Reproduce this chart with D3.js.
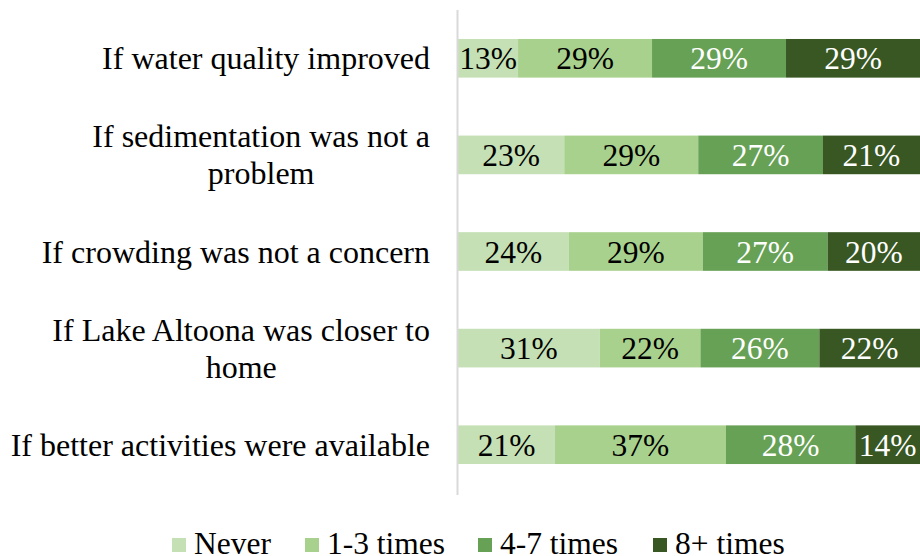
<!DOCTYPE html>
<html>
<head>
<meta charset="utf-8">
<script src="https://cdn.jsdelivr.net/npm/d3@7"></script>
<style>
  body { margin: 0; background: #fff; }
  text { font-family: "Liberation Serif", "Times New Roman", serif; }
</style>
</head>
<body>
<div id="chart"></div>
<script>
var categories = [
  "If water quality improved",
  "If sedimentation was not a\nproblem",
  "If crowding was not a concern",
  "If Lake Altoona was closer to\nhome",
  "If better activities were available"
];
var seriesNames = ["Never", "1-3 times", "4-7 times", "8+ times"];
var never = [13, 23, 24, 31, 21];
var oneToThree = [29, 29, 29, 22, 37];
var fourToSeven = [29, 27, 27, 26, 28];
var eightPlus = [29, 21, 20, 22, 14];

var colors = ["#c5e0b4", "#a9d18e", "#67a155", "#385723"];
var labelColors = ["#000", "#000", "#fff", "#fff"];

var width = 920, height = 556;

var svg = d3.select("#chart").append("svg")
            .attr("width", width)
            .attr("height", height);

var rows = categories.map(function(c, i) {
  return {cat: c, Never: never[i], "1-3 times": oneToThree[i], "4-7 times": fourToSeven[i], "8+ times": eightPlus[i]};
});

// normalise each row to 100
var stacked = d3.stack().keys(seriesNames)
                .offset(d3.stackOffsetExpand)(rows);

var y = d3.scaleBand()
          .domain(categories)
          .range([10, 493])
          .paddingInner(0.6)
          .paddingOuter(0.3);

var x = d3.scaleLinear()
          .domain([0, 1])
          .range([458, 920]);

var groups = svg.selectAll("g.series")
                .data(stacked)
                .enter()
                .append("g")
                .attr("class", "series")
                .attr("fill", function(d, i) { return colors[i]; });

groups.selectAll("rect")
      .data(function(d) { return d; })
      .enter()
      .append("rect")
      .attr("x", function(d) { return x(d[0]); })
      .attr("y", function(d) { return y(d.data.cat); })
      .attr("width", function(d) { return x(d[1]) - x(d[0]); })
      .attr("height", y.bandwidth());

groups.each(function(s, si) {
  d3.select(this).selectAll("text")
    .data(s)
    .enter()
    .append("text")
    .attr("x", function(d) { return (x(d[0]) + x(d[1])) / 2; })
    .attr("y", function(d) { return y(d.data.cat) + y.bandwidth() / 2 + 11; })
    .attr("text-anchor", "middle")
    .attr("font-size", 31.5)
    .attr("fill", labelColors[si])
    .text(function(d) { return d.data[s.key] + "%"; });
});

// vertical axis line
svg.append("line")
   .attr("x1", 457.5).attr("x2", 457.5)
   .attr("y1", 10).attr("y2", 495)
   .attr("stroke", "#d9d9d9")
   .attr("stroke-width", 2);

// category labels, wrapped lines centred on each other, block right aligned
var labelRight = 430;
categories.forEach(function(c) {
  var lines = c.split("\n");
  var g = svg.append("g");
  var cy = y(c) + y.bandwidth() / 2;
  var lh = 37;
  var texts = g.selectAll("text")
               .data(lines)
               .enter()
               .append("text")
               .attr("font-size", 32)
               .attr("fill", "#000")
               .attr("y", function(d, i) { return cy + 11 + (i - (lines.length - 1) / 2) * lh; })
               .text(function(d) { return d; });
  var maxW = 0;
  texts.each(function() { maxW = Math.max(maxW, this.getComputedTextLength()); });
  texts.attr("text-anchor", "middle").attr("x", labelRight - maxW / 2);
});

// legend
var legendX = [172, 305, 478, 653];
var legend = svg.selectAll("g.legend")
                .data(seriesNames)
                .enter()
                .append("g")
                .attr("class", "legend")
                .attr("transform", function(d, i) { return "translate(" + legendX[i] + ",538)"; });
legend.append("rect")
      .attr("width", 14).attr("height", 14)
      .attr("fill", function(d, i) { return colors[i]; });
legend.append("text")
      .attr("x", 22).attr("y", 16)
      .attr("font-size", 31.5)
      .text(function(d) { return d; });
</script>
</body>
</html>
